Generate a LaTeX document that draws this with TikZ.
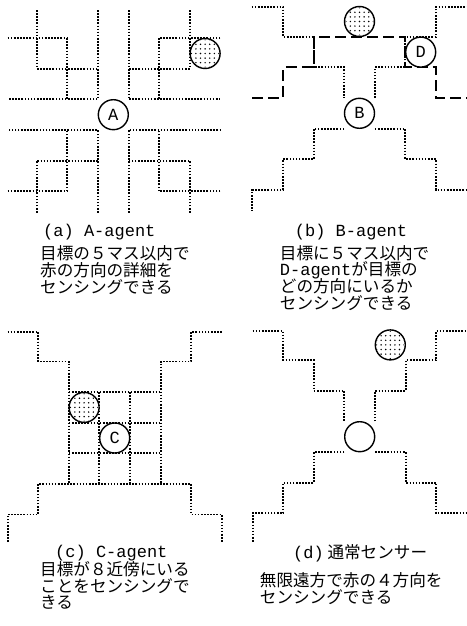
\documentclass[tikz,border=0pt]{standalone}
\usepackage{fontspec}
\newfontfamily\jp{Noto Sans CJK JP}
\newfontfamily\mono{Liberation Mono}
\tikzset{
  wall/.style={line width=1.9pt, dash pattern=on 1.6pt off 1.5pt},
  reach/.style={line width=1.9pt, dash pattern=on 11pt off 5pt},
  agent/.style={circle, draw, line width=1.4pt, minimum size=30pt, inner sep=0pt, fill=white,
    font=\mono\fontsize{17}{17}\selectfont},
  target/.style={circle, draw, line width=1.4pt, minimum size=30pt, inner sep=0pt, fill=white},
  captxt/.style={anchor=west, inner sep=0pt, font=\mono\fontsize{17}{17}\selectfont},
  jtxt/.style={anchor=west, inner sep=0pt, font=\jp\fontsize{16.6}{16.6}\selectfont},
}
\newcommand\stipple[1]{%
  \begin{scope}
    \clip (#1.center) circle (14pt);
    \foreach \i in {-3,...,3}{\foreach \j in {-3,...,3}{%
      \fill ([shift={(\i*4.6pt,\j*4.6pt)}]#1.center) circle (0.8pt);}}
  \end{scope}}
\begin{document}
\begin{tikzpicture}
\useasboundingbox (0pt,0pt) rectangle (466pt,-626pt);
% ---------------- (a) A-agent
\begin{scope}[shift={(113.3pt,-114.7pt)}, x=30.6pt, y=30.6pt]
  % upper-left
  \draw[wall] (-3.45,2.5) -- (-1.5,2.5);
  \draw[wall] (-2.5,3.42) -- (-2.5,1.5) -- (-0.5,1.5);
  \draw[wall] (-1.5,2.5) -- (-1.5,0.5);
  \draw[wall] (-0.5,3.42) -- (-0.5,0.5) -- (-3.45,0.5);
  % upper-right
  \draw[wall] (3.5,2.5) -- (1.5,2.5);
  \draw[wall] (2.5,3.42) -- (2.5,1.5) -- (0.5,1.5);
  \draw[wall] (1.5,2.5) -- (1.5,0.5);
  \draw[wall] (0.5,3.42) -- (0.5,0.5) -- (3.5,0.5);
  % lower-left
  \draw[wall] (-3.45,-2.5) -- (-1.5,-2.5);
  \draw[wall] (-2.5,-3.2) -- (-2.5,-1.5) -- (-0.5,-1.5);
  \draw[wall] (-1.5,-2.5) -- (-1.5,-0.5);
  \draw[wall] (-0.5,-3.2) -- (-0.5,-0.5) -- (-3.45,-0.5);
  % lower-right
  \draw[wall] (3.5,-2.5) -- (1.5,-2.5);
  \draw[wall] (2.5,-3.2) -- (2.5,-1.5) -- (0.5,-1.5);
  \draw[wall] (1.5,-2.5) -- (1.5,-0.5);
  \draw[wall] (0.5,-3.2) -- (0.5,-0.5) -- (3.5,-0.5);
  \node[agent] (A) at (0,0) {A};
  \node[target] (tA) at (3,2) {};
\end{scope}
% ---------------- (b) B-agent
\begin{scope}[shift={(359.5pt,-113.3pt)}, x=30.6pt, y=30.6pt]
  \draw[wall] (-3.52,3.48) -- (-2.5,3.48) -- (-2.5,2.5) -- (-1.5,2.5) -- (-1.5,1.5) -- (-0.5,1.5) -- (-0.5,0.5);
  \draw[wall] (0.5,0.5) -- (0.5,1.5) -- (1.5,1.5) -- (1.5,2.5) -- (2.5,2.5) -- (2.5,3.48) -- (3.6,3.48);
  \draw[wall] (-0.5,-0.5) -- (-1.5,-0.5) -- (-1.5,-1.5) -- (-2.5,-1.5) -- (-2.5,-2.5) -- (-3.5,-2.5) -- (-3.5,-3.2);
  \draw[wall] (0.5,-0.5) -- (1.5,-0.5) -- (1.5,-1.5) -- (2.5,-1.5) -- (2.5,-2.5) -- (3.6,-2.5);
  \draw[reach] (-3.5,0.5) -- (-2.5,0.5) -- (-2.5,1.5) -- (-1.5,1.5) -- (-1.5,2.5) -- (1.5,2.5)
     -- (1.5,1.5) -- (2.5,1.5) -- (2.5,0.5) -- (3.6,0.5);
  \node[agent] (B) at (0,0) {B};
  \node[agent] (D) at (2,2) {D};
  \node[target] (tB) at (0,3) {};
\end{scope}
% ---------------- (c) C-agent
\begin{scope}[shift={(114.7pt,-438pt)}, x=30.6pt, y=30.6pt]
  \draw[wall] (-3.5,3.47) -- (-2.5,3.47) -- (-2.5,2.5) -- (-1.5,2.5) -- (-1.5,-1.5);
  \draw[wall] (3.5,3.47) -- (2.5,3.47) -- (2.5,2.5) -- (1.5,2.5) -- (1.5,-1.5);
  \draw[wall] (-1.5,1.5) -- (1.5,1.5);
  \draw[wall] (-1.5,0.5) -- (1.5,0.5);
  \draw[wall] (-1.5,-0.5) -- (1.5,-0.5);
  \draw[wall] (-0.5,1.5) -- (-0.5,-1.5);
  \draw[wall] (0.5,1.5) -- (0.5,-1.5);
  \draw[wall] (-3.5,-3.4) -- (-3.5,-2.5) -- (-2.5,-2.5) -- (-2.5,-1.5) -- (2.5,-1.5) -- (2.5,-2.5) -- (3.5,-2.5) -- (3.5,-3.4);
  \node[agent] (C) at (0,0) {C};
  \node[target] (tC) at (-1,1) {};
\end{scope}
% ---------------- (d) normal sensor
\begin{scope}[shift={(359.7pt,-436.7pt)}, x=30.6pt, y=30.6pt]
  \draw[wall] (-3.5,3.45) -- (-2.5,3.45) -- (-2.5,2.5) -- (-1.5,2.5) -- (-1.5,1.5) -- (-0.5,1.5) -- (-0.5,0.5);
  \draw[wall] (0.5,0.5) -- (0.5,1.5) -- (1.5,1.5) -- (1.5,2.5) -- (2.5,2.5) -- (2.5,3.45) -- (3.6,3.45);
  \draw[wall] (-0.5,-0.5) -- (-1.5,-0.5) -- (-1.5,-1.5) -- (-2.5,-1.5) -- (-2.5,-2.5) -- (-3.5,-2.5) -- (-3.5,-3.43);
  \draw[wall] (0.5,-0.5) -- (1.5,-0.5) -- (1.5,-1.5) -- (2.5,-1.5) -- (2.5,-2.5) -- (3.6,-2.5);
  \node[agent] (N) at (0,0) {};
  \node[target] (tD) at (1,3) {};
\end{scope}
\stipple{tA}\stipple{tB}\stipple{tC}\stipple{tD}
% ---------------- captions
\node[captxt] (capa) at (43pt,-231.7pt) {(a) A-agent};
\node[jtxt] (a1) at (40pt,-253pt) {目標の５マス以内で};
\node[jtxt] (a2) at (40pt,-270pt) {赤の方向の詳細を};
\node[jtxt] (a3) at (40pt,-287pt) {センシングできる};
\node[captxt] (capb) at (294.7pt,-231.7pt) {(b) B-agent};
\node[jtxt] (b1) at (279.7pt,-253pt) {目標に５マス以内で};
\node[jtxt] (b2) at (279.7pt,-270pt) {{\mono\fontsize{17}{17}\selectfont D-agent}が目標の};
\node[jtxt] (b3) at (279.7pt,-286.5pt) {どの方向にいるか};
\node[jtxt] (b4) at (279.7pt,-303pt) {センシングできる};
\node[captxt] (capc) at (55pt,-553pt) {(c) C-agent};
\node[jtxt] (c1) at (40pt,-569.5pt) {目標が８近傍にいる};
\node[jtxt] (c2) at (40pt,-586pt) {ことをセンシングで};
\node[jtxt] (c3) at (40pt,-602.5pt) {きる};
\node[jtxt] (capd) at (293pt,-553pt) {{\mono\fontsize{17}{17}\selectfont (d)} 通常センサー};
\node[jtxt] (d1) at (259.7pt,-580pt) {無限遠方で赤の４方向を};
\node[jtxt] (d2) at (259.7pt,-597pt) {センシングできる};
\end{tikzpicture}
\end{document}
